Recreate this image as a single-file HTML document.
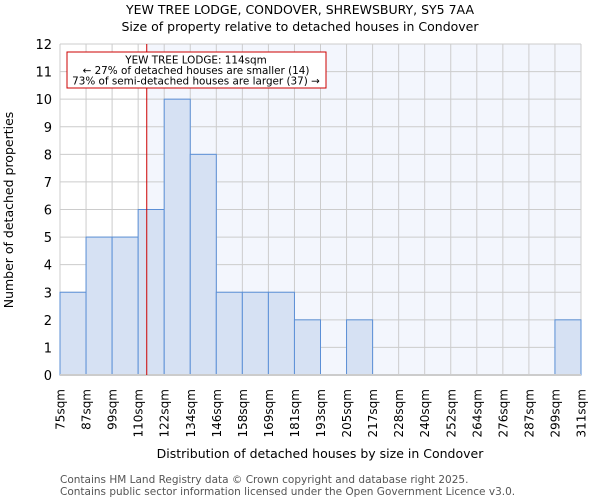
<!DOCTYPE html>
<html><head><meta charset="utf-8"><style>
body{margin:0;background:#fff;font-family:"DejaVu Sans","Liberation Sans",sans-serif;}
svg text{font-family:"DejaVu Sans","Liberation Sans",sans-serif;}
</style></head><body>
<svg id="chart" width="600" height="500" xmlns="http://www.w3.org/2000/svg">
<text x="300" y="14" text-anchor="middle" font-size="12.5">YEW TREE LODGE, CONDOVER, SHREWSBURY, SY5 7AA</text>
<text x="300" y="31" text-anchor="middle" font-size="12.5">Size of property relative to detached houses in Condover</text>
<g id="plot"></g>
<text x="320" y="458" text-anchor="middle" font-size="12.5">Distribution of detached houses by size in Condover</text>
<text transform="translate(13,210) rotate(-90)" text-anchor="middle" font-size="12.5">Number of detached properties</text>
<text x="60" y="483" font-size="10.5" fill="#555">Contains HM Land Registry data © Crown copyright and database right 2025.</text>
<text x="60" y="495" font-size="10.5" fill="#555">Contains public sector information licensed under the Open Government Licence v3.0.</text>
</svg>
<script>
const binLabels=["75sqm","87sqm","99sqm","110sqm","122sqm","134sqm","146sqm","158sqm","169sqm","181sqm","193sqm","205sqm","217sqm","228sqm","240sqm","252sqm","264sqm","276sqm","287sqm","299sqm","311sqm"];
const counts=[3,5,5,6,10,8,3,3,3,2,0,2,0,0,0,0,0,0,0,2];
const yTicks=[0,1,2,3,4,5,6,7,8,9,10,11,12];
const propertyBinPos=3.33;
const NS="http://www.w3.org/2000/svg";
const L=60,R=581,T=44,B=375,yMax=12;
const nb=counts.length;
const x=i=>L+(R-L)*i/nb;
const y=v=>B-(B-T)*v/yMax;
const g=document.getElementById('plot');
function mk(t,a){const e=document.createElementNS(NS,t);for(const k in a)e.setAttribute(k,a[k]);g.appendChild(e);return e;}
const px=x(propertyBinPos);
let e;
e=mk('rect',{x:L,y:T,width:px-L,height:B-T,fill:'#ffffff'});


e=mk('rect',{x:px,y:T,width:R-px,height:B-T,fill:'#f3f6fd'});


for(let i=0;i<=nb;i++){e=mk('line',{x1:x(i),x2:x(i),y1:T,y2:B,stroke:'#cccccc','stroke-width':1});

}
yTicks.forEach(v=>{e=mk('line',{x1:L,x2:R,y1:y(v),y2:y(v),stroke:'#cccccc','stroke-width':1});


const t=mk('text',{x:L-8,y:y(v)+5,'text-anchor':'end','font-size':13});t.textContent=v;

});
counts.forEach((c,i)=>{if(c<=0)return;e=mk('rect',{x:x(i),y:y(c),width:x(i+1)-x(i),height:B-y(c),fill:'#d6e1f3',stroke:'#5b8fd6','stroke-width':1});

});
e=mk('line',{x1:L,x2:R,y1:B,y2:B,stroke:'#cccccc','stroke-width':2});


binLabels.forEach((s,i)=>{const t=mk('text',{transform:`translate(${x(i)+4.5},${B+14}) rotate(-90)`,'text-anchor':'end','font-size':12});t.textContent=s;

});
e=mk('line',{x1:px,x2:px,y1:T,y2:B,stroke:'#cc0000','stroke-width':1});


e=mk('rect',{x:67,y:52,width:259,height:36,fill:'#fff',stroke:'#cc0000','stroke-width':1});


["YEW TREE LODGE: 114sqm","← 27% of detached houses are smaller (14)","73% of semi-detached houses are larger (37) →"].forEach((s,i)=>{const t=mk('text',{x:196,y:63.5+i*10.5,'text-anchor':'middle','font-size':10.4});t.textContent=s;

});
</script>
</body></html>
